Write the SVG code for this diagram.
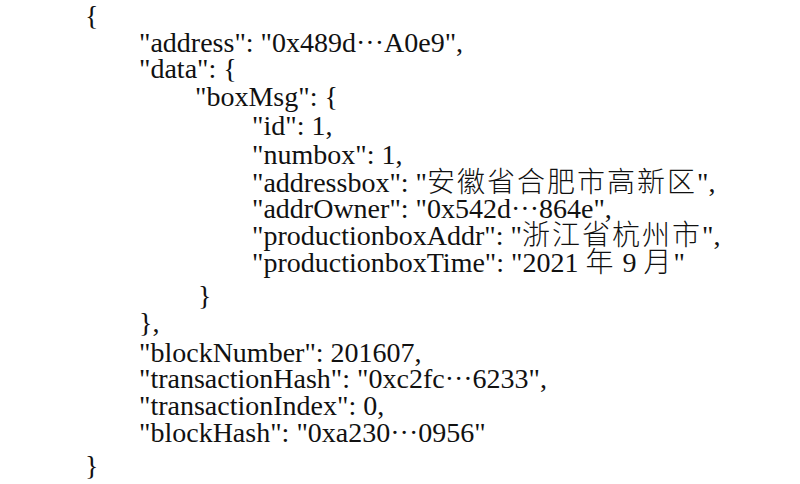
<svg xmlns="http://www.w3.org/2000/svg" width="800" height="484" viewBox="0 0 800 484">
<style>
text{font-family:"Liberation Serif","Noto Sans CJK SC",serif;font-size:28px;fill:#111;}
.cjk{letter-spacing:2px;font-weight:300;}
</style>
<rect width="800" height="484" fill="#fff"/>
<g id="json">
<text x="85" y="25">{</text>
<text x="139" y="52">"address": "0x489d···A0e9",</text>
<text x="139" y="78">"data": {</text>
<text x="195" y="106">"boxMsg": {</text>
<text x="252" y="135">"id": 1,</text>
<text x="252" y="164">"numbox": 1,</text>
<text x="252" y="192">"addressbox": "<tspan class="cjk">安徽省合肥市高新区</tspan>",</text>
<text x="252" y="218">"addrOwner": "0x542d···864e",</text>
<text x="252" y="245">"productionboxAddr": "<tspan class="cjk">浙江省杭州市</tspan>",</text>
<text x="252" y="272">"productionboxTime": "2021 <tspan class="cjk">年</tspan> 9 <tspan class="cjk">月</tspan>"</text>
<text x="198" y="305">}</text>
<text x="139" y="332">},</text>
<text x="139" y="362">"blockNumber": 201607,</text>
<text x="139" y="388">"transactionHash": "0xc2fc···6233",</text>
<text x="139" y="415">"transactionIndex": 0,</text>
<text x="139" y="442">"blockHash": "0xa230···0956"</text>
<text x="85" y="475">}</text>
</g>
</svg>
